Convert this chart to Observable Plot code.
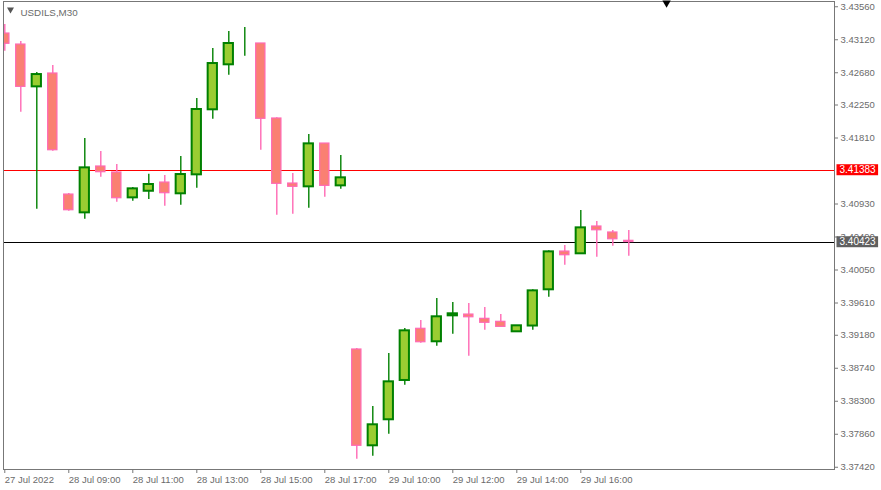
<!DOCTYPE html>
<html>
<head>
<meta charset="utf-8">
<script src="https://cdn.jsdelivr.net/npm/d3@7"></script>
<script src="https://cdn.jsdelivr.net/npm/@observablehq/plot@0.6"></script>
<style>
  html, body { margin: 0; padding: 0; background: #ffffff; }
  #chart svg { display: block; }
</style>
</head>
<body>
<div id="chart"></div>
<script>
// ---- data (USDILS, M30) ----
const symbolTitle = "USDILS,M30";
const opens  = [3.43203,3.43056,3.42492,3.42670,3.41056,3.40812,3.41430,3.41350,3.41012,3.41100,
                3.41216,3.41066,3.41319,3.42186,3.42786,3.43066,3.43070,3.42070,3.41203,3.41159,
                3.41736,3.41172,3.38990,3.37706,3.38053,3.38577,3.39266,3.39093,3.39439,3.39456,
                3.39399,3.39359,3.39226,3.39303,3.39786,3.40296,3.40266,3.40630,3.40550,3.40439];
const highs  = [3.43323,3.43096,3.42683,3.42776,3.41070,3.41803,3.41630,3.41456,3.41150,3.41327,
                3.41310,3.41563,3.42336,3.43003,3.43230,3.43283,3.43070,3.42079,3.41336,3.41856,
                3.41736,3.41576,3.39003,3.38230,3.38937,3.39270,3.39376,3.39670,3.39616,3.39603,
                3.39550,3.39456,3.39306,3.39786,3.40306,3.40376,3.40843,3.40696,3.40576,3.40576];
const lows   = [3.42967,3.42154,3.40860,3.41634,3.40834,3.40727,3.41287,3.40954,3.40967,3.40990,
                3.40900,3.40914,3.41140,3.42060,3.42647,3.42900,3.41647,3.40780,3.40794,3.40874,
                3.41020,3.41127,3.37527,3.37567,3.37861,3.38514,3.39074,3.39034,3.39194,3.38900,
                3.39247,3.39292,3.39226,3.39247,3.39687,3.40114,3.40266,3.40220,3.40367,3.40234];
const closes = [3.43066,3.42492,3.42656,3.41647,3.40847,3.41412,3.41354,3.41007,3.41132,3.41190,
                3.41074,3.41323,3.42190,3.42803,3.43070,3.43066,3.42066,3.41199,3.41159,3.41732,
                3.41172,3.41279,3.37706,3.37986,3.38559,3.39239,3.39087,3.39426,3.39466,3.39420,
                3.39346,3.39292,3.39306,3.39772,3.40292,3.40247,3.40612,3.40580,3.40460,3.40423];

const yTicks = [3.43560,3.43120,3.42680,3.42250,3.41810,3.40930,3.40490,3.40050,
                3.39610,3.39180,3.38740,3.38300,3.37860,3.37420];
const xTickBars   = [0,4,8,12,16,20,24,28,32,36];
const xTickLabels = ["27 Jul 2022","28 Jul 09:00","28 Jul 11:00","28 Jul 13:00","28 Jul 15:00",
                     "28 Jul 17:00","29 Jul 10:00","29 Jul 12:00","29 Jul 14:00","29 Jul 16:00"];
const levelLine = 3.41383;   // red horizontal level
const bidLine   = 3.40423;   // last price line
const shiftMarkBar = 41.36;  // chart-shift marker position (bar units)

// ---- view settings ----
const xView = [-0.081, 51.856];
const yView = [3.37390, 3.43630];

const bars = opens.map((o, i) => ({
  i, open: o, high: highs[i], low: lows[i], close: closes[i], up: closes[i] >= o
}));
const upBars = bars.filter(d => d.up);
const dnBars = bars.filter(d => !d.up);

const GREEN = "#008000", LIME = "#9ACD32", PINK = "#FF69B4", SALMON = "#FA8072";
const TXT = "#6b6b6b", AX = "#777777";
const half = 0.29;

const chart = Plot.plot({
  width: 881,
  height: 490,
  marginLeft: 3,
  marginRight: 47,
  marginTop: 1,
  marginBottom: 21,
  style: {
    fontFamily: "'Liberation Sans', Arial, sans-serif",
    fontSize: "9.5px",
    background: "#ffffff",
    overflow: "visible"
  },
  x: {domain: xView, axis: null},
  y: {domain: yView, axis: null},
  marks: [
    Plot.ruleY([levelLine], {y: d => d, stroke: "#ff0000", strokeWidth: 1, shapeRendering: "crispEdges"}),
    Plot.ruleY([bidLine], {y: d => d, stroke: "#000000", strokeWidth: 1, shapeRendering: "crispEdges"}),
    Plot.ruleX(upBars, {x: "i", y1: "low", y2: "high", stroke: GREEN, strokeWidth: 1.4, clip: true}),
    Plot.ruleX(dnBars, {x: "i", y1: "low", y2: "high", stroke: PINK, strokeWidth: 1.4, clip: true}),
    Plot.rect(dnBars, {x1: d => d.i - half, x2: d => d.i + half, y1: "open", y2: "close",
      fill: SALMON, stroke: PINK, strokeWidth: 1.2, clip: true}),
    Plot.rect(upBars, {x1: d => d.i - half, x2: d => d.i + half, y1: "open", y2: "close",
      fill: LIME, stroke: GREEN, strokeWidth: 2, clip: true}),
    Plot.frame({stroke: AX, shapeRendering: "crispEdges"}),
    Plot.axisY({anchor: "right", ticks: yTicks, tickFormat: d => d.toFixed(5),
      tickSize: 3, tickPadding: 3, label: null, stroke: AX, fill: TXT}),
    Plot.axisX({anchor: "bottom", ticks: xTickBars,
      tickFormat: d => xTickLabels[xTickBars.indexOf(d)],
      textAnchor: "start", tickSize: 4, tickPadding: 3, label: null,
      stroke: AX, fill: TXT}),
    Plot.text([levelLine], {y: d => d, text: d => d.toFixed(5), frameAnchor: "right",
      dx: 5, textAnchor: "start", fill: "#ffffff", fontSize: 10, ariaLabel: () => "lvl-red"}),
    Plot.text([bidLine], {y: d => d, text: d => d.toFixed(5), frameAnchor: "right",
      dx: 5, textAnchor: "start", fill: "#ffffff", fontSize: 10, ariaLabel: () => "lvl-bid"}),
    Plot.text([symbolTitle], {text: d => d, frameAnchor: "top-left", dx: 17, dy: 8,
      textAnchor: "start", fill: TXT, fontSize: 9.8}),
    Plot.dot([symbolTitle], {frameAnchor: "top-left", dx: 7, dy: 8, symbol: "triangle",
      r: 2.6, rotate: 180, fill: "#555555", stroke: "none"}),
    Plot.dot([shiftMarkBar], {x: d => d, frameAnchor: "top", dy: 1.5, symbol: "triangle",
      r: 3.1, rotate: 180, fill: "#000000", stroke: "none"})
  ]
});

document.getElementById("chart").appendChild(chart);

// background boxes behind current price labels
[["lvl-red", "#ff0000"], ["lvl-bid", "#606060"]].forEach(([name, col]) => {
  chart.querySelectorAll(`[aria-label="${name}"]`).forEach(el => {
    const texts = el.tagName.toLowerCase() === "text" ? [el] : Array.from(el.querySelectorAll("text"));
    texts.forEach(t => {
      const bb = t.getBBox();
      const cy = bb.y + bb.height / 2;
      const r = document.createElementNS("http://www.w3.org/2000/svg", "rect");
      r.setAttribute("x", bb.x - 3);
      r.setAttribute("y", cy - 5.5);
      r.setAttribute("width", bb.width + 5);
      r.setAttribute("height", 11);
      r.setAttribute("fill", col);
      const tr = t.getAttribute("transform");
      if (tr) r.setAttribute("transform", tr);
      t.parentNode.insertBefore(r, t);
    });
  });
});
</script>
</body>
</html>
